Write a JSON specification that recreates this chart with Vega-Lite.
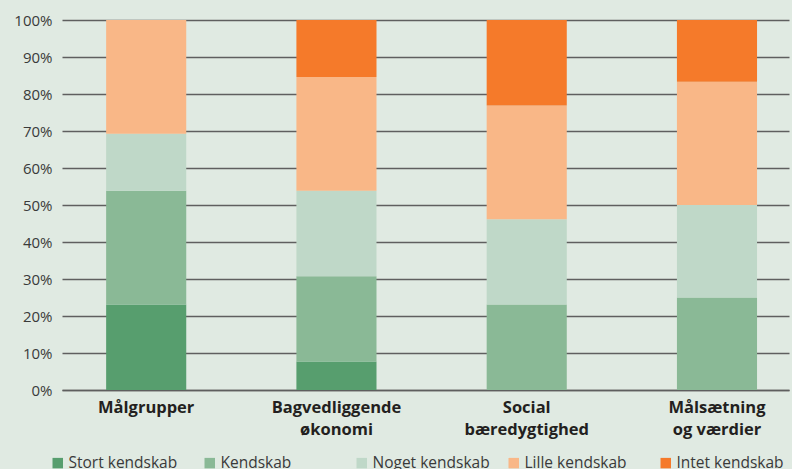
{
  "$schema": "https://vega.github.io/schema/vega-lite/v6.json",
  "width": 727,
  "height": 370,
  "autosize": {"type": "none"},
  "padding": {"left": 62, "top": 20, "right": 3, "bottom": 79},
  "background": "#e0eae2",
  "config": {
    "view": {"stroke": null},
    "font": "Open Sans"
  },
  "datasets": {
    "svar": [
      {"kategori": "Målgrupper", "niveau": "Stort kendskab", "antal": 3},
      {"kategori": "Målgrupper", "niveau": "Kendskab", "antal": 4},
      {"kategori": "Målgrupper", "niveau": "Noget kendskab", "antal": 2},
      {"kategori": "Målgrupper", "niveau": "Lille kendskab", "antal": 4},
      {"kategori": "Bagvedliggende økonomi", "niveau": "Stort kendskab", "antal": 1},
      {"kategori": "Bagvedliggende økonomi", "niveau": "Kendskab", "antal": 3},
      {"kategori": "Bagvedliggende økonomi", "niveau": "Noget kendskab", "antal": 3},
      {"kategori": "Bagvedliggende økonomi", "niveau": "Lille kendskab", "antal": 4},
      {"kategori": "Bagvedliggende økonomi", "niveau": "Intet kendskab", "antal": 2},
      {"kategori": "Social bæredygtighed", "niveau": "Kendskab", "antal": 3},
      {"kategori": "Social bæredygtighed", "niveau": "Noget kendskab", "antal": 3},
      {"kategori": "Social bæredygtighed", "niveau": "Lille kendskab", "antal": 4},
      {"kategori": "Social bæredygtighed", "niveau": "Intet kendskab", "antal": 3},
      {"kategori": "Målsætning og værdier", "niveau": "Kendskab", "antal": 3},
      {"kategori": "Målsætning og værdier", "niveau": "Noget kendskab", "antal": 3},
      {"kategori": "Målsætning og værdier", "niveau": "Lille kendskab", "antal": 4},
      {"kategori": "Målsætning og værdier", "niveau": "Intet kendskab", "antal": 2}
    ],
    "etiketter": [
      {"kategori": "Målgrupper", "linje1": "Målgrupper", "linje2": ""},
      {"kategori": "Bagvedliggende økonomi", "linje1": "Bagvedliggende", "linje2": "økonomi"},
      {"kategori": "Social bæredygtighed", "linje1": "Social", "linje2": "bæredygtighed"},
      {"kategori": "Målsætning og værdier", "linje1": "Målsætning", "linje2": "og værdier"}
    ]
  },
  "layer": [
    {
      "data": {"name": "svar"},
      "transform": [
        {"calculate": "indexof(['Stort kendskab', 'Kendskab', 'Noget kendskab', 'Lille kendskab', 'Intet kendskab'], datum.niveau)", "as": "rang"}
      ],
      "mark": {"type": "bar"},
      "encoding": {
        "x": {
          "field": "kategori",
          "type": "nominal",
          "sort": null,
          "scale": {"paddingInner": 0.579, "paddingOuter": 0.2, "align": 0.58},
          "axis": {
            "title": null,
            "labels": false,
            "ticks": false,
            "domain": true,
            "domainColor": "#5f5f5f",
            "domainWidth": 1.5
          }
        },
        "y": {
          "field": "antal",
          "type": "quantitative",
          "stack": "normalize",
          "scale": {"domain": [0, 1]},
          "axis": {
            "title": null,
            "format": ".0%",
            "values": [0, 0.1, 0.2, 0.3, 0.4, 0.5, 0.6, 0.7, 0.8, 0.9, 1],
            "labelFontSize": 15,
            "labelColor": "#3a3a3a",
            "labelPadding": 10,
            "ticks": false,
            "domain": false,
            "grid": true,
            "gridColor": "#5f5f5f",
            "gridWidth": 1.5
          }
        },
        "color": {
          "field": "niveau",
          "type": "nominal",
          "sort": ["Stort kendskab", "Kendskab", "Noget kendskab", "Lille kendskab", "Intet kendskab"],
          "scale": {
            "domain": ["Stort kendskab", "Kendskab", "Noget kendskab", "Lille kendskab", "Intet kendskab"],
            "range": ["#579e6e", "#8ab996", "#bfd8c8", "#f9b787", "#f57a2a"]
          },
          "legend": {
            "title": null,
            "orient": "none",
            "direction": "horizontal",
            "columns": 5,
            "gridAlign": "all",
            "legendX": -12,
            "legendY": 435,
            "symbolType": "square",
            "symbolSize": 110,
            "symbolStrokeWidth": 0,
            "labelFontSize": 15.5,
            "labelColor": "#3a3a3a",
            "labelOffset": 3,
            "columnPadding": 16
          }
        },
        "order": {"field": "rang", "type": "quantitative", "sort": "ascending"}
      }
    },
    {
      "data": {"name": "etiketter"},
      "mark": {"type": "text", "font": "Open Sans", "fontWeight": "bold", "fontSize": 16.5, "color": "#231f20", "baseline": "alphabetic", "align": "center", "dy": 23},
      "encoding": {
        "x": {"field": "kategori", "type": "nominal", "sort": null, "axis": {"title": null, "labels": false, "ticks": false, "domain": true, "domainColor": "#5f5f5f", "domainWidth": 1.5}},
        "y": {
          "datum": 0,
          "type": "quantitative",
          "axis": {
            "title": null,
            "format": ".0%",
            "values": [0, 0.1, 0.2, 0.3, 0.4, 0.5, 0.6, 0.7, 0.8, 0.9, 1],
            "labelFontSize": 15,
            "labelColor": "#3a3a3a",
            "labelPadding": 10,
            "ticks": false,
            "domain": false,
            "grid": true,
            "gridColor": "#5f5f5f",
            "gridWidth": 1.5
          }
        },
        "text": {"field": "linje1"}
      }
    },
    {
      "data": {"name": "etiketter"},
      "mark": {"type": "text", "font": "Open Sans", "fontWeight": "bold", "fontSize": 16.5, "color": "#231f20", "baseline": "alphabetic", "align": "center", "dy": 45},
      "encoding": {
        "x": {"field": "kategori", "type": "nominal", "sort": null, "axis": {"title": null, "labels": false, "ticks": false, "domain": true, "domainColor": "#5f5f5f", "domainWidth": 1.5}},
        "y": {
          "datum": 0,
          "type": "quantitative",
          "axis": {
            "title": null,
            "format": ".0%",
            "values": [0, 0.1, 0.2, 0.3, 0.4, 0.5, 0.6, 0.7, 0.8, 0.9, 1],
            "labelFontSize": 15,
            "labelColor": "#3a3a3a",
            "labelPadding": 10,
            "ticks": false,
            "domain": false,
            "grid": true,
            "gridColor": "#5f5f5f",
            "gridWidth": 1.5
          }
        },
        "text": {"field": "linje2"}
      }
    }
  ]
}
